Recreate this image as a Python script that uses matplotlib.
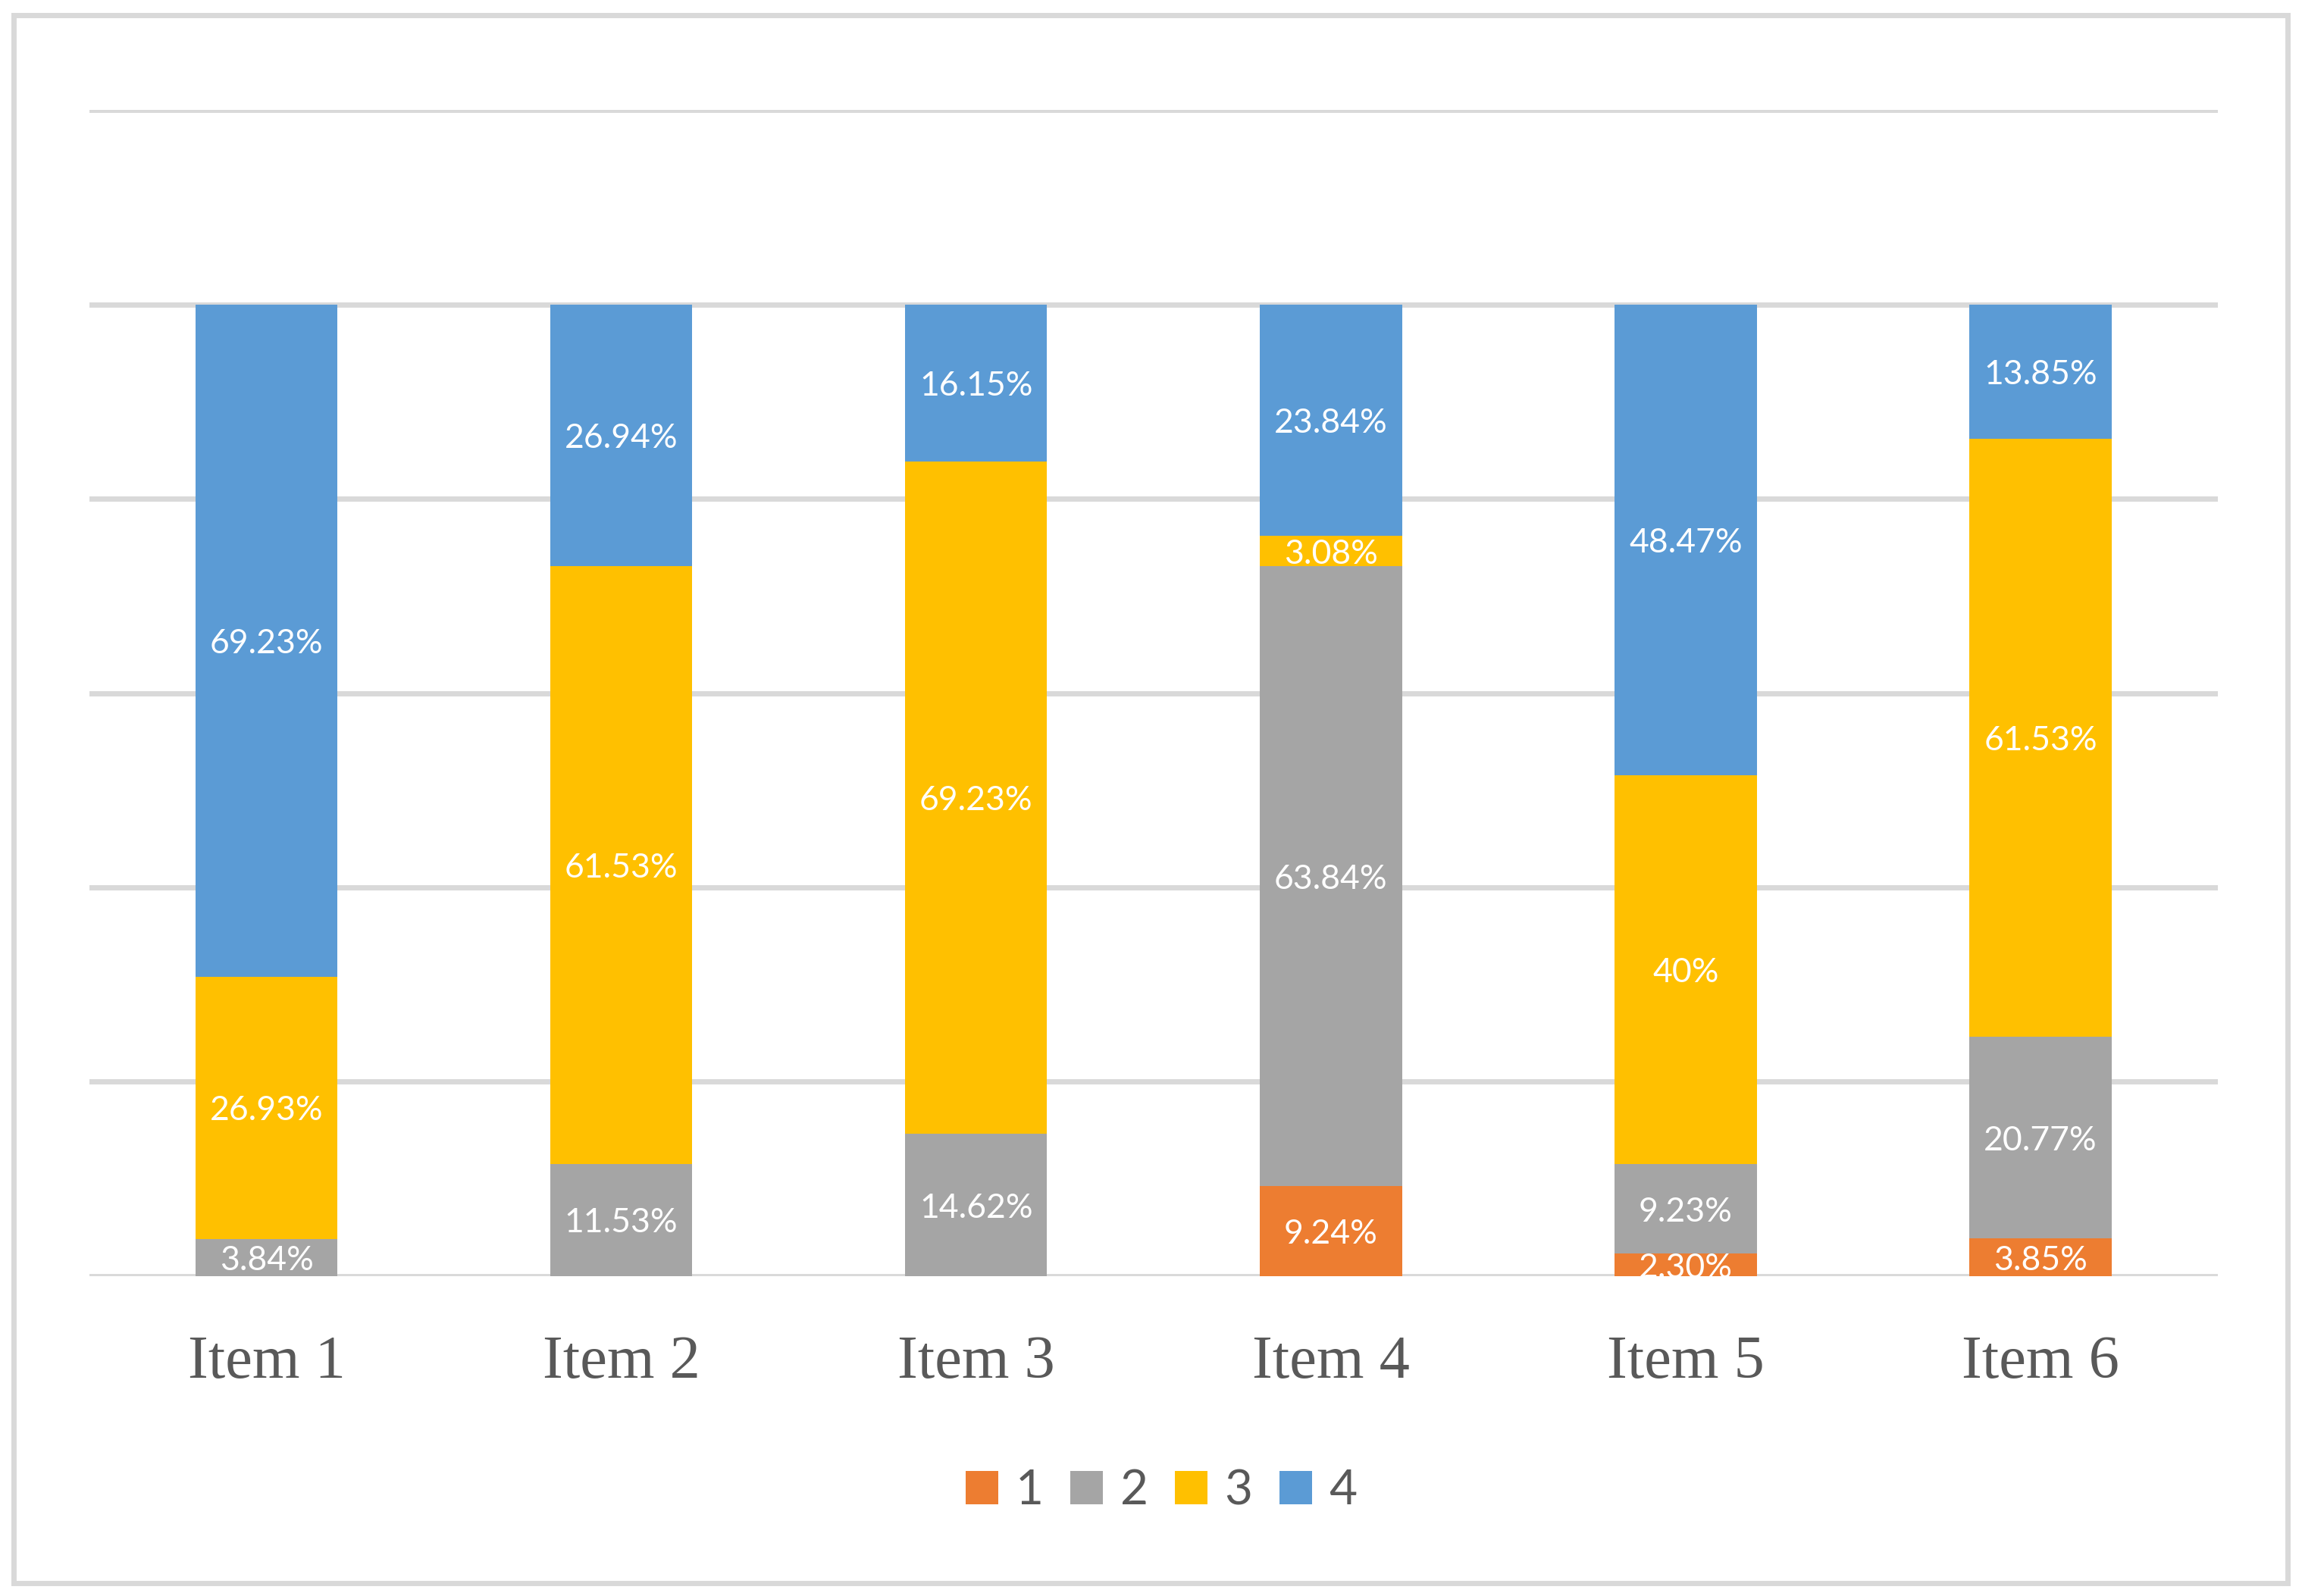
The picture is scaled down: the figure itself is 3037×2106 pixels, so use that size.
import matplotlib.pyplot as plt
from matplotlib.patches import Rectangle
import numpy as np

# data
items = ["Item 1", "Item 2", "Item 3", "Item 4", "Item 5", "Item 6"]
series_names = ["1", "2", "3", "4"]
s1 = [0, 0, 0, 9.24, 2.30, 3.85]
s2 = [3.84, 11.53, 14.62, 63.84, 9.23, 20.77]
s3 = [26.93, 61.53, 69.23, 3.08, 40, 61.53]
s4 = [69.23, 26.94, 16.15, 23.84, 48.47, 13.85]
labels1 = ["", "", "", "9.24%", "2.30%", "3.85%"]
labels2 = ["3.84%", "11.53%", "14.62%", "63.84%", "9.23%", "20.77%"]
labels3 = ["26.93%", "61.53%", "69.23%", "3.08%", "40%", "61.53%"]
labels4 = ["69.23%", "26.94%", "16.15%", "23.84%", "48.47%", "13.85%"]

colors = ["#ED7D31", "#A5A5A5", "#FFC000", "#5B9BD5"]
grid_col = "#D9D9D9"
text_col = "#595959"

fig = plt.figure(figsize=(15.185, 10.53), dpi=200)
ax = fig.add_axes([0.0387, 0.2005, 0.9248, 0.7305])

x = np.arange(len(items))
bottom = np.zeros(len(items))
for vals, labs, col, name in zip([s1, s2, s3, s4], [labels1, labels2, labels3, labels4],
                                 colors, series_names):
    vals = np.array(vals, dtype=float)
    ax.bar(x, vals, 0.40, bottom=bottom, color=col, label=name, zorder=2)
    for xi, b, v, lab in zip(x, bottom, vals, labs):
        if lab:
            ax.text(xi, b + v / 2, lab, ha="center", va="center_baseline", color="white",
                    fontsize=16, family="Lato", zorder=4)
    bottom += vals

ax.set_xlim(-0.5, len(items) - 0.5)
ax.set_ylim(0, 120)
ax.set_yticks(np.arange(0, 121, 20))
ax.yaxis.grid(True, color=grid_col, linewidth=2.5, zorder=1)
ax.set_axisbelow(True)
ax.tick_params(axis="y", left=False, labelleft=False)
ax.tick_params(axis="x", bottom=False, pad=24.5)
ax.set_xticks(x)
ax.set_xticklabels(items, fontsize=29, family="Liberation Serif", color=text_col)
for sp in ax.spines.values():
    sp.set_visible(False)

leg = fig.legend(loc="center", bbox_to_anchor=(0.5045, 0.066), ncol=4, frameon=False,
                 prop={"family": "Lato", "size": 23}, labelcolor=text_col,
                 handlelength=0.68, handleheight=0.68, handletextpad=0.35, columnspacing=0.55)

# outer chart border
fig.patches.append(Rectangle((0.0058, 0.0080), 0.9879, 0.9825, transform=fig.transFigure,
                             fill=False, edgecolor=grid_col, linewidth=2.5))

plt.savefig("out.png", dpi=200)
